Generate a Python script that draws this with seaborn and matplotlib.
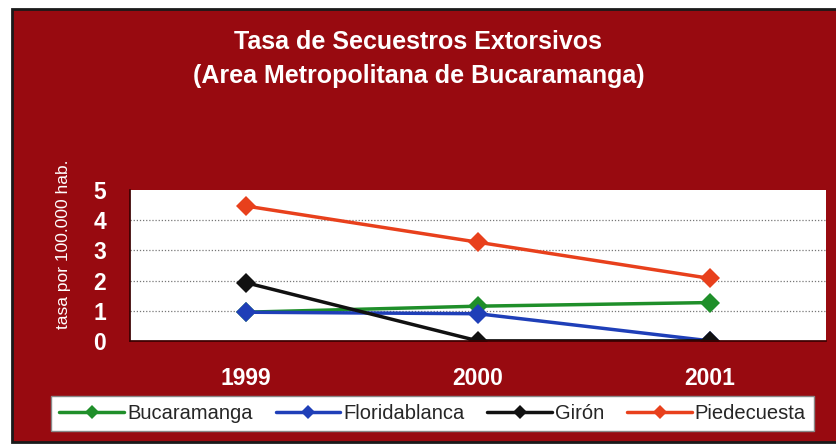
import pandas as pd
import matplotlib.pyplot as plt
import seaborn as sns
from matplotlib.patches import Rectangle

years = ["1999", "2000", "2001"]
bucaramanga = [0.95, 1.15, 1.27]
floridablanca = [0.95, 0.9, 0.0]
giron = [1.93, 0.0, 0.0]
piedecuesta = [4.47, 3.27, 2.07]
municipios = ["Bucaramanga", "Floridablanca", "Girón", "Piedecuesta"]
colores = ["#1f8f2a", "#1f3fb8", "#111111", "#e8401c"]

df = pd.DataFrame({
    "year": years * 4,
    "tasa": bucaramanga + floridablanca + giron + piedecuesta,
    "municipio": [m for m in municipios for _ in years],
})

bg = "#980a10"
sns.set_theme(style="white")
plt.rcParams["font.family"] = ["Liberation Sans", "DejaVu Sans"]

fig = plt.figure(figsize=(8.37, 4.45), dpi=100, facecolor="white")
# red chart panel with dark border (left/top/bottom visible)
fig.add_artist(Rectangle((12 / 837, 3 / 445), 1.0, 1 - 12 / 445,
                         transform=fig.transFigure, facecolor=bg,
                         edgecolor="#1a1a1a", linewidth=2, zorder=0))

ax = fig.add_axes([0.155, 0.234, 0.832, 0.339])
ax.set_facecolor("white")

sns.lineplot(data=df, x="year", y="tasa", hue="municipio", palette=colores,
             marker="D", markersize=10, markeredgewidth=0, linewidth=2.5,
             ax=ax, legend=True, sort=False)

ax.set_xlim(-0.5, 2.5)
ax.set_ylim(0, 5)
ax.set_yticks(range(6))
for y in range(1, 5):
    ax.axhline(y, color="#777777", linestyle=(0, (1, 1.5)), linewidth=0.9, zorder=0)
for s in ["top", "right"]:
    ax.spines[s].set_visible(False)
ax.spines["left"].set_color("#3a0000")
ax.spines["bottom"].set_color("#3a0000")
ax.tick_params(axis="both", colors="white", length=0, labelsize=16.5)
for t in ax.get_xticklabels() + ax.get_yticklabels():
    t.set_fontweight("bold")
    t.set_color("white")
ax.tick_params(axis="y", pad=17)
ax.tick_params(axis="x", pad=19)
ax.set_xlabel("")
ax.set_ylabel("tasa por 100.000 hab.", color="white", fontsize=12.5)
ax.yaxis.set_label_coords(-0.085, 0.64)

fig.text(0.5, 0.905, "Tasa de Secuestros Extorsivos", color="white",
         fontsize=18, fontweight="bold", ha="center", va="center")
fig.text(0.5, 0.83, "(Area Metropolitana de Bucaramanga)", color="white",
         fontsize=18, fontweight="bold", ha="center", va="center")

h, l = ax.get_legend_handles_labels()
ax.get_legend().remove()
leg = fig.legend(h, l, loc="center", bbox_to_anchor=(0.517, 0.07), ncol=4,
                 frameon=True, fancybox=False, handlelength=3.2,
                 handletextpad=0.15, columnspacing=1.15, borderpad=0.4,
                 framealpha=1, prop={"size": 14.5})
leg.get_frame().set_edgecolor("#888888")
leg.get_frame().set_facecolor("white")
for hd in leg.legend_handles:
    hd.set_markersize(7)

fig.savefig("out.png", dpi=100, facecolor="white")
